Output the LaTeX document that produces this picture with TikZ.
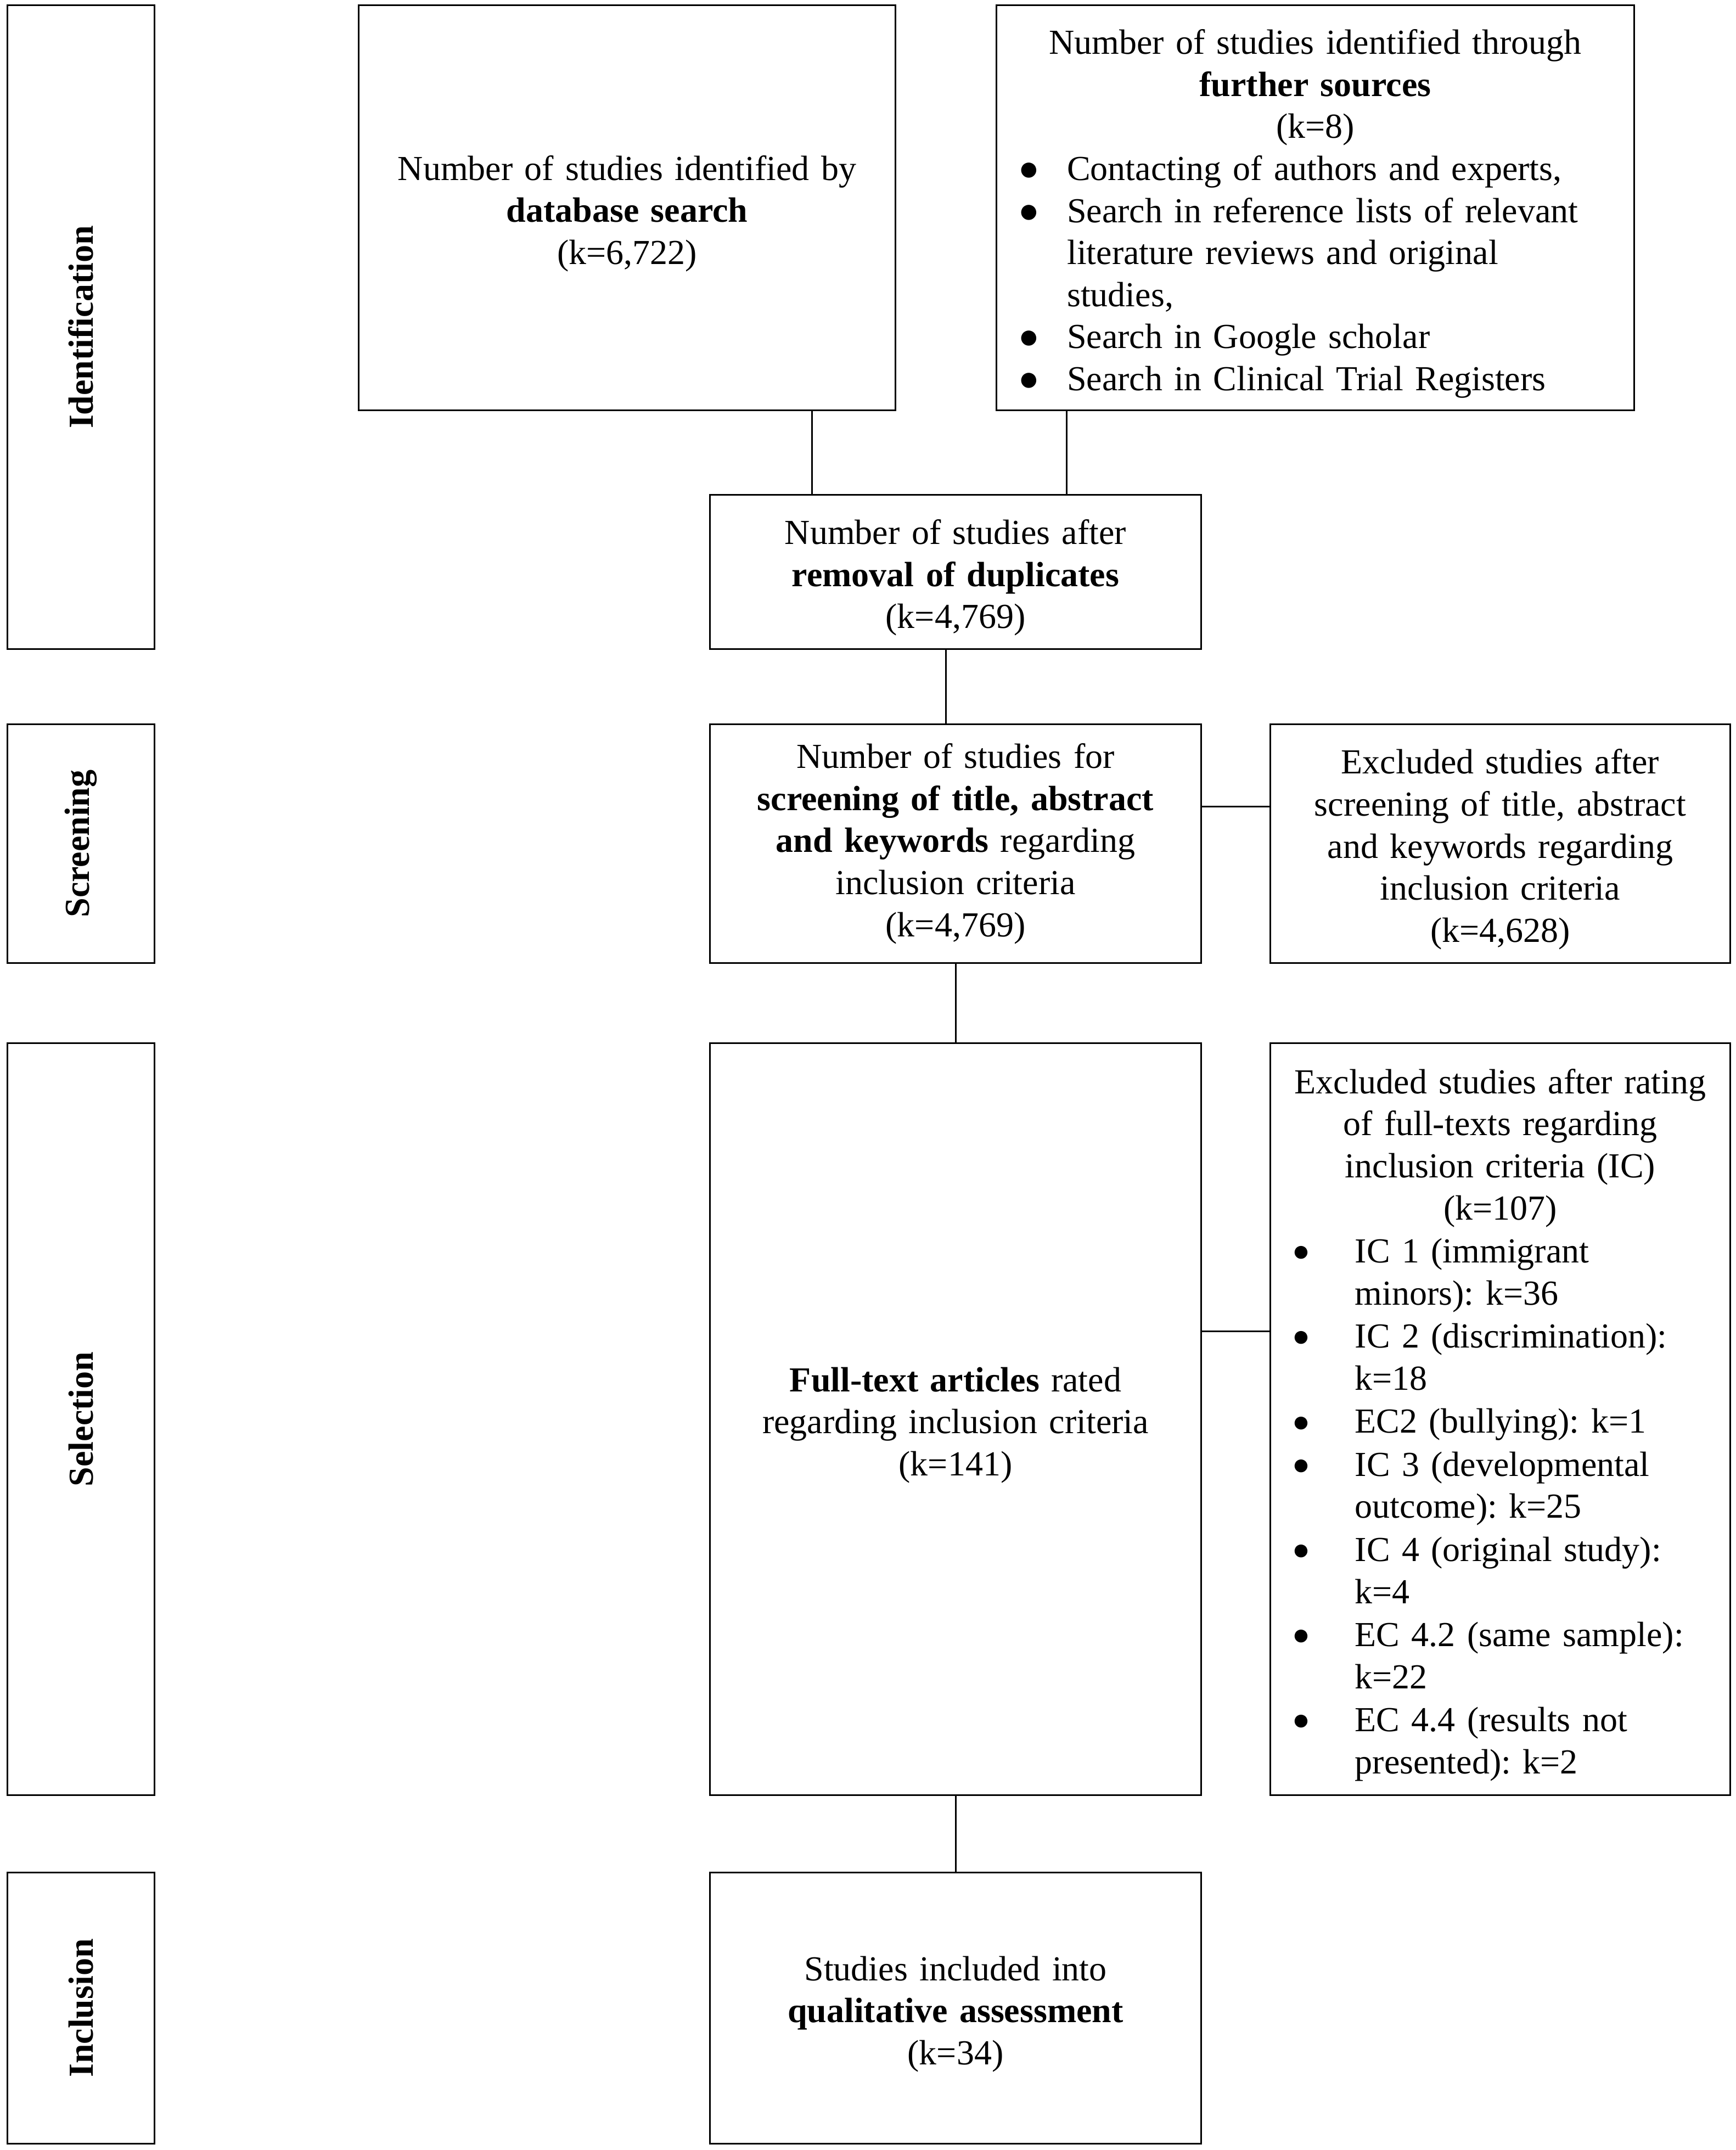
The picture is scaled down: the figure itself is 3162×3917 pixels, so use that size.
\documentclass[tikz,border=0pt]{standalone}
\usepackage{fontspec}
\setmainfont{Liberation Serif}
\usepackage{graphicx}
\frenchspacing
\newcommand{\topstrut}[1][18.8pt]{\rule{0pt}{#1}}
\newcommand{\srcitem}[1]{\makebox[10.82cm][l]{\makebox[0.89cm][l]{●}#1}}
\newcommand{\srccont}[1]{\makebox[10.82cm][l]{\hspace{0.89cm}#1}}
\newcommand{\exitem}[1]{\makebox[7.57cm][l]{\makebox[1.14cm][l]{\raisebox{0.8pt}{\fontsize{15.5pt}{15.5pt}\selectfont ●}}#1}}
\newcommand{\excont}[1]{\makebox[7.57cm][l]{\hspace{1.14cm}#1}}

\begin{document}
\begin{tikzpicture}[x=0.01cm,y=-0.01cm,
		every node/.style={font=\fontsize{18.2pt}{21.8pt}\selectfont},
		box/.style={draw=black,line width=0.85pt,inner sep=0pt,align=center},
		stagebox/.style={box,minimum width=2.67cm},
		flowbox/.style={box,minimum width=8.94cm,text width=8.5cm},
		exclbox/.style={box,minimum width=8.37cm,text width=8.0cm},
		link/.style={draw=black,line width=0.85pt}]
	\useasboundingbox (0,0) rectangle (3162,3917);								% page
	\node[stagebox,minimum height=11.72cm] (identification) at (147.5,596) {\rotatebox{90}{\textbf{Identification}}};	% stages
	\node[stagebox,minimum height=4.34cm] (screening) at (147.5,1537) {\rotatebox{90}{\textbf{Screening}}};
	\node[stagebox,minimum height=13.69cm] (selection) at (147.5,2585.5) {\rotatebox{90}{\textbf{Selection}}};
	\node[stagebox,minimum height=4.93cm] (inclusion) at (147.5,3658.5) {\rotatebox{90}{\textbf{Inclusion}}};
	\node[box,minimum width=9.77cm,minimum height=7.37cm,text width=9.3cm] (db) at (1142.5,378.5)
		{\topstrut Number of studies identified by\\ \textbf{database search}\\ (k=6,722)};		% database search
	\node[box,minimum width=11.61cm,minimum height=7.37cm,text width=11.2cm] (further) at (2396.5,378.5)
		{\topstrut[19pt]Number of studies identified through\\ \textbf{further sources}\\ (k=8)\\
		\srcitem{Contacting of authors and experts,}\\
		\srcitem{Search in reference lists of relevant}\\
		\srccont{literature reviews and original}\\
		\srccont{studies,}\\
		\srcitem{Search in Google scholar}\\
		\srcitem{Search in Clinical Trial Registers}};							% further sources
	\node[flowbox,minimum height=2.80cm] (dup) at (1741,1042)
		{\topstrut Number of studies after\\ \textbf{removal of duplicates}\\ (k=4,769)};
	\node[flowbox,minimum height=4.34cm] (screen) at (1741,1537)
		{Number of studies for\\ \textbf{screening of title, abstract}\\ \textbf{and keywords} regarding\\ inclusion criteria\\ (k=4,769)};
	\node[exclbox,minimum height=4.34cm] (exscreen) at (2733.5,1537)
		{\topstrut Excluded studies after\\ screening of title, abstract\\ and keywords regarding\\ inclusion criteria\\ (k=4,628)};
	\node[flowbox,minimum height=13.69cm] (fulltext) at (1741,2585.5)
		{\topstrut\textbf{Full-text articles} rated\\ regarding inclusion criteria\\ (k=141)};
	\node[exclbox,minimum height=13.69cm] (exfull) at (2733.5,2585.5)
		{\topstrut Excluded studies after rating\\ of full-texts regarding\\ inclusion criteria (IC)\\ (k=107)\\[0.5pt]
		\exitem{IC 1 (immigrant}\\ \excont{minors): k=36}\\[0.5pt]
		\exitem{IC 2 (discrimination):}\\ \excont{k=18}\\[0.5pt]
		\exitem{EC2 (bullying): k=1}\\[0.5pt]
		\exitem{IC 3 (developmental}\\ \excont{outcome): k=25}\\[0.5pt]
		\exitem{IC 4 (original study):}\\ \excont{k=4}\\[0.5pt]
		\exitem{EC 4.2 (same sample):}\\ \excont{k=22}\\[0.5pt]
		\exitem{EC 4.4 (results not}\\ \excont{presented): k=2}};					% exclusion reasons
	\node[flowbox,minimum height=4.93cm] (included) at (1741,3658.5)
		{\topstrut Studies included into\\ \textbf{qualitative assessment}\\ (k=34)};
	\draw[link] ([xshift=-2.61cm]dup.north) -- ([xshift=-2.61cm]dup.north |- db.south);		% connectors
	\draw[link] ([xshift=2.02cm]dup.north) -- ([xshift=2.02cm]dup.north |- further.south);
	\draw[link] ([xshift=-0.18cm]dup.south) -- ([xshift=-0.18cm]screen.north);
	\draw[link] (screen.south) -- (fulltext.north);
	\draw[link] (fulltext.south) -- (included.north);
	\draw[link] ([yshift=0.67cm]screen.east) -- ([yshift=0.67cm]screen.east -| exscreen.west);
	\draw[link] ([yshift=1.595cm]fulltext.east) -- ([yshift=1.595cm]fulltext.east -| exfull.west);
\end{tikzpicture}
\end{document}
